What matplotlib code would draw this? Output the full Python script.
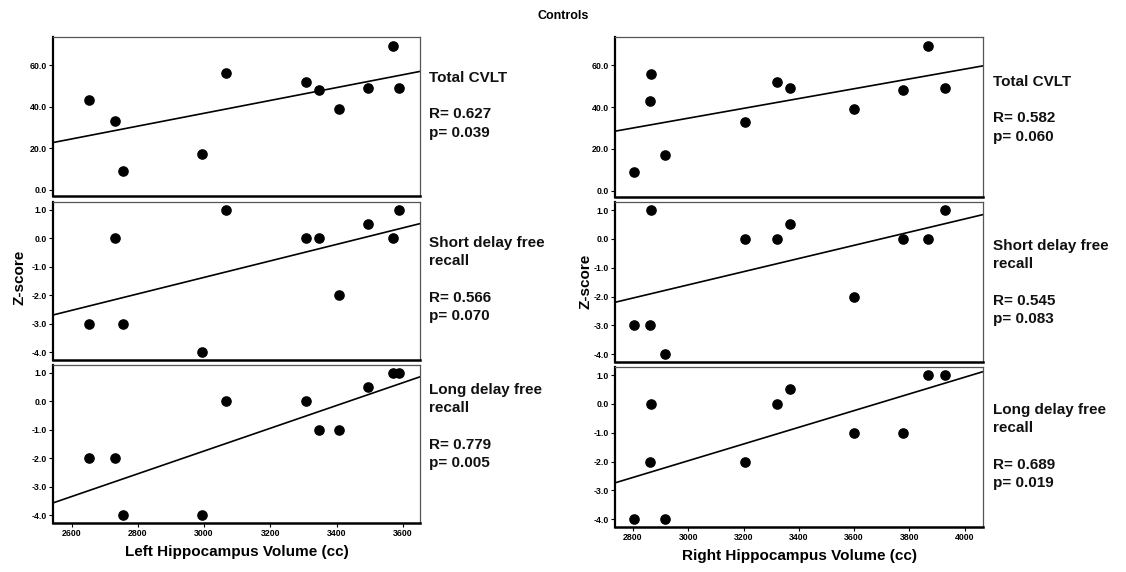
import numpy as np
import matplotlib
matplotlib.use('Agg')
import matplotlib.pyplot as plt
from matplotlib.ticker import FormatStrFormatter

# one entry per control subject
left_vol = [2652, 2732, 2755, 2995, 3065, 3307, 3347, 3407, 3495, 3571, 3590]
right_vol = [2863, 3205, 2804, 2915, 2865, 3321, 3775, 3598, 3369, 3868, 3930]
total_cvlt = [43, 33, 9, 17, 56, 52, 48, 39, 49, 69, 49]
short_delay = [-3, 0, -3, -4, 1, 0, 0, -2, 0.5, 0, 1]
long_delay = [-2, -2, -4, -4, 0, 0, -1, -1, 0.5, 1, 1]

measures = [total_cvlt, short_delay, long_delay]
names = ['Total CVLT', 'Short delay free\nrecall', 'Long delay free\nrecall']
left_stats = [('0.627', '0.039'), ('0.566', '0.070'), ('0.779', '0.005')]
right_stats = [('0.582', '0.060'), ('0.545', '0.083'), ('0.689', '0.019')]

W, H = 1126, 572
fig = plt.figure(figsize=(W / 100, H / 100), dpi=100)
plt.rcParams['font.family'] = ['Liberation Sans', 'DejaVu Sans']


def box(x0, x1, top, bot):
    return [x0 / W, 1 - bot / H, (x1 - x0) / W, (bot - top) / H]


left_rows = [(37, 196), (202, 360), (365, 523)]
right_rows = [(37, 197), (202, 362), (367, 527)]

sides = [
    (left_vol, 53, 420, left_rows, (2544, 3652), np.arange(2600, 3601, 200), left_stats, 429,
     'Left Hippocampus Volume (cc)'),
    (right_vol, 615, 983, right_rows, (2735, 4066), np.arange(2800, 4001, 200), right_stats, 993,
     'Right Hippocampus Volume (cc)'),
]
text_tops = {429: [71, 236, 383], 993: [75, 239, 403]}

for xs, x0, x1, rows, xlim, xticks, stats, tx, xlabel in sides:
    for i, (ys, (top, bot)) in enumerate(zip(measures, rows)):
        ax = fig.add_axes(box(x0, x1, top, bot))
        ax.scatter(xs, ys, s=44, color='black', zorder=3)
        k, b = np.polyfit(xs, ys, 1)
        lx = np.array(xlim)
        ax.plot(lx, k * lx + b, color='black', lw=1.2)
        ax.set_xlim(xlim)
        if i == 0:
            ax.set_ylim(-3, 73.5)
            ax.set_yticks([0, 20, 40, 60])
        else:
            ax.set_ylim(-4.27, 1.28)
            ax.set_yticks([-4, -3, -2, -1, 0, 1])
        ax.yaxis.set_major_formatter(FormatStrFormatter('%.1f'))
        if i == 2:
            ax.set_xticks(xticks)
            ax.set_xlabel(xlabel, fontsize=11, fontweight='bold', labelpad=5)
        else:
            ax.set_xticks([])
        ax.tick_params(direction='out', length=3, width=0.8, pad=1.5,
                       labelsize=6.3, colors='black')
        for lab in ax.get_xticklabels() + ax.get_yticklabels():
            lab.set_fontweight('bold')
        ax.spines['left'].set_linewidth(1.6)
        ax.spines['bottom'].set_linewidth(1.8)
        ax.spines['top'].set_linewidth(0.9)
        ax.spines['right'].set_linewidth(0.9)
        ax.spines['top'].set_color('#555555')
        ax.spines['right'].set_color('#555555')
        r, p = stats[i]
        label = names[i] + '\n\nR= ' + r + '\np= ' + p
        fig.text(tx / W, 1 - text_tops[tx][i] / H, label, fontsize=11,
                 fontweight='bold', va='top', ha='left', linespacing=1.38,
                 color='#111111')

fig.text(19 / W, 1 - 277 / H, 'Z-score', rotation=90, fontsize=11,
         fontweight='bold', ha='center', va='center')
fig.text(585 / W, 1 - 281 / H, 'Z-score', rotation=90, fontsize=11,
         fontweight='bold', ha='center', va='center')
fig.text(563 / W, 1 - 16 / H, 'Controls', fontsize=9, fontweight='bold',
         ha='center', va='center')

fig.savefig('out.png', dpi=100)
